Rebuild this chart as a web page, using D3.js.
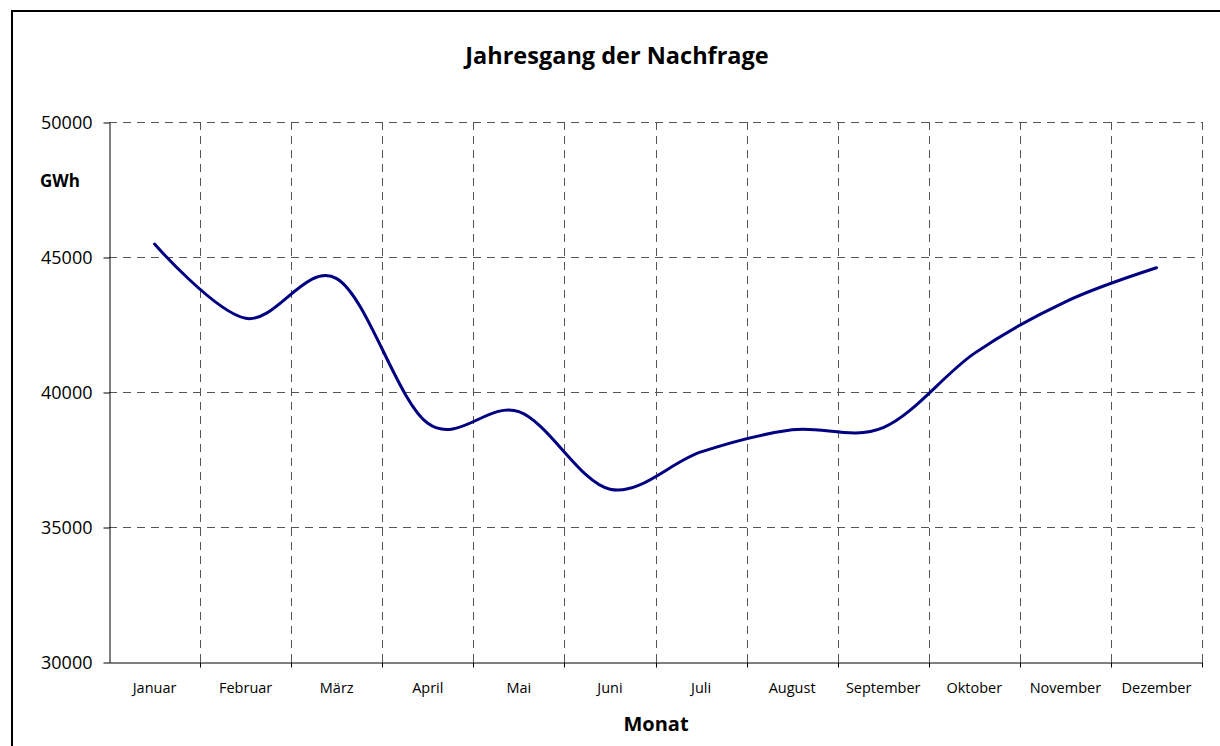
<!DOCTYPE html>
<html>
<head>
<meta charset="utf-8">
<script src="https://cdn.jsdelivr.net/npm/d3@7"></script>
<style>
	body { margin:0; background:#fff; }
	svg text { font-family:"Open Sans", "DejaVu Sans", sans-serif; fill:#000; }
</style>
</head>
<body>
<svg id="chart" width="1220" height="746"></svg>
<script>
//data
var months = ["Januar","Februar","März","April","Mai","Juni","Juli","August","September","Oktober","November","Dezember"];
var demand = [45480, 42730, 44200, 38840, 39270, 36400, 37780, 38600, 38680, 41430, 43340, 44600];
var yTicks = [30000, 35000, 40000, 45000, 50000];

var svg = d3.select("#chart");

//outer frame
svg.append("rect")
	.attr("x", 12).attr("y", 11)
	.attr("width", 1220).attr("height", 760)
	.attr("fill", "none").attr("stroke", "#000").attr("stroke-width", 2);

var plotLeft = 109, plotRight = 1202, plotTop = 122, plotBottom = 662;

var x = d3.scaleBand().domain(months).range([plotLeft, plotRight]);
var y = d3.scaleLinear().domain([30000, 50000]).range([plotBottom, plotTop]);

//grid
var grid = svg.append("g").attr("stroke", "#555").attr("stroke-dasharray", "8,6").attr("stroke-width", 1);
grid.selectAll("line.h").data(yTicks.slice(1)).enter().append("line")
	.attr("x1", plotLeft).attr("x2", plotRight)
	.attr("y1", function(d) { return Math.round(y(d)) + 0.5; })
	.attr("y2", function(d) { return Math.round(y(d)) + 0.5; });
grid.selectAll("line.v").data(months).enter().append("line")
	.attr("x1", function(d) { return Math.round(x(d) + x.bandwidth()) + 0.5; })
	.attr("x2", function(d) { return Math.round(x(d) + x.bandwidth()) + 0.5; })
	.attr("y1", plotTop).attr("y2", plotBottom);

//axes
var yAxis = svg.append("g")
	.attr("transform", "translate(" + (plotLeft + 0.5) + ",0.5)")
	.call(d3.axisLeft(y).tickValues(yTicks).tickSize(6).tickPadding(11).tickSizeOuter(0).tickFormat(d3.format("d")));
yAxis.selectAll("text").style("font-size", "18px");

var xAxis = svg.append("g")
	.attr("transform", "translate(0," + (plotBottom + 0.5) + ")")
	.call(d3.axisBottom(x).tickSize(0).tickPadding(20));
xAxis.selectAll("text").style("font-size", "14.5px");
//ticks at the category borders
xAxis.selectAll("line.border").data(months).enter().append("line")
	.attr("class", "border")
	.attr("x1", function(d) { return Math.round(x(d) + x.bandwidth()) + 0.5; })
	.attr("x2", function(d) { return Math.round(x(d) + x.bandwidth()) + 0.5; })
	.attr("y1", 0).attr("y2", 5)
	.attr("stroke", "#000");
svg.selectAll(".domain").attr("stroke", "#000");

//smoothed line (excel style)
var line = d3.line()
	.x(function(d, i) { return x(months[i]) + x.bandwidth() / 2; })
	.y(function(d) { return y(d); })
	.curve(d3.curveCardinal.tension(0));

svg.append("path")
	.datum(demand)
	.attr("d", line)
	.attr("fill", "none")
	.attr("stroke", "#000080")
	.attr("stroke-width", 3)
	.attr("stroke-linecap", "round");

//titles
svg.append("text")
	.attr("x", 617).attr("y", 64)
	.attr("text-anchor", "middle")
	.style("font-size", "23.5px").style("font-weight", "bold")
	.text("Jahresgang der Nachfrage");

svg.append("text")
	.attr("x", 656).attr("y", 731)
	.attr("text-anchor", "middle")
	.style("font-size", "20px").style("font-weight", "bold")
	.text("Monat");

svg.append("text")
	.attr("x", 40).attr("y", 187)
	.style("font-size", "17px").style("font-weight", "bold")
	.text("GWh");
</script>
</body>
</html>
